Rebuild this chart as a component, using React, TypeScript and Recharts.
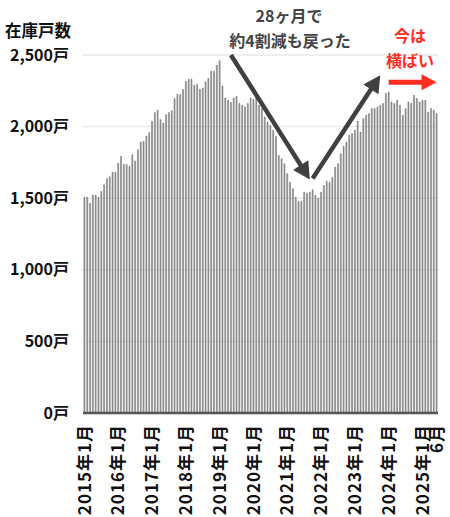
import React from 'react';
import { BarChart, Bar, XAxis, YAxis, CartesianGrid, ReferenceLine } from 'recharts';

// 2015年1月 〜 2025年6月 の月次カテゴリ
const startYear = 2015;
const monthCount = 126;
const months: string[] = Array.from({ length: monthCount }, (_, i) => {
  const y = startYear + Math.floor(i / 12);
  const m = (i % 12) + 1;
  return `${y}年${m}月`;
});

// 在庫戸数（画像から読み取った概算）
const stock: number[] = [
  1507, 1507, 1465, 1521, 1521, 1507, 1547, 1594, 1636, 1650, 1682, 1682,
  1745, 1792, 1736, 1736, 1722, 1804, 1760, 1839, 1892, 1897, 1934, 1958,
  2037, 2098, 2114, 2048, 2025, 2083, 2098, 2110, 2196, 2224, 2224, 2259,
  2317, 2331, 2331, 2289, 2294, 2261, 2270, 2312, 2336, 2387, 2387, 2429,
  2459, 2284, 2200, 2184, 2168, 2200, 2212, 2161, 2149, 2137, 2161, 2200,
  2190, 2207, 2149, 2126, 2067, 2032, 2009, 1974, 1932, 1799, 1776, 1741,
  1671, 1612, 1566, 1507, 1477, 1477, 1542, 1535, 1542, 1559, 1519, 1500,
  1542, 1589, 1619, 1612, 1647, 1717, 1741, 1811, 1862, 1892, 1939, 1951,
  1974, 2039, 1962, 2056, 2079, 2091, 2126, 2126, 2137, 2149, 2161, 2231,
  2242, 2172, 2161, 2184, 2149, 2079, 2126, 2172, 2161, 2219, 2196, 2172,
  2184, 2184, 2102, 2126, 2114, 2091,
];

const yTicks = [0, 500, 1000, 1500, 2000, 2500];

// 矢印（データ座標）
const downArrow = [{ x: '2019年5月', y: 2500 }, { x: '2021年9月', y: 1631 }];
const upArrow = [{ x: '2021年10月', y: 1638 }, { x: '2023年10月', y: 2359 }];
const flatArrow = [{ x: '2024年1月', y: 2310 }, { x: '2025年6月', y: 2310 }];

const data = months.map((month, i) => ({ month, stock: stock[i] }));

const FONT = '"Noto Sans CJK JP", "Noto Sans", sans-serif';

const makeArrow = (color: string, shaft: number, headLen: number, headHalf: number) =>
  (props: any) => {
    const { x1, y1, x2, y2 } = props;
    const dx = x2 - x1;
    const dy = y2 - y1;
    const len = Math.sqrt(dx * dx + dy * dy);
    const ux = dx / len;
    const uy = dy / len;
    const bx = x2 - ux * headLen;
    const by = y2 - uy * headLen;
    const px = -uy;
    const py = ux;
    return (
      <g>
        <line x1={x1} y1={y1} x2={bx + ux} y2={by + uy} stroke={color} strokeWidth={shaft} />
        <polygon
          points={`${x2},${y2} ${bx + px * headHalf},${by + py * headHalf} ${bx - px * headHalf},${by - py * headHalf}`}
          fill={color}
        />
      </g>
    );
  };

const XTick = (props: any) => {
  const { x, y, payload, index } = props;
  const v: string = payload.value;
  let text = '';
  if (v.endsWith('年1月')) text = v;
  if (index === monthCount - 1) text = '6月';
  if (!text) return null;
  return (
    <text
      x={x}
      y={y + 3}
      transform={`rotate(-90, ${x}, ${y + 3})`}
      textAnchor="end"
      dy="0.36em"
      fontSize={17}
      fontWeight={700}
      letterSpacing={1}
      fill="#111"
      fontFamily={FONT}
    >
      {text}
    </text>
  );
};

const textStyle: React.CSSProperties = {
  position: 'absolute',
  fontFamily: FONT,
  fontWeight: 700,
  fontSize: 16,
  lineHeight: '17px',
  whiteSpace: 'nowrap',
  transform: 'translate(-50%, -50%)',
};

export default function App() {
  return (
    <div style={{ position: 'fixed', left: 0, top: 0, width: 450, height: 517, background: '#fff' }}>
      <BarChart
        width={450}
        height={517}
        data={data}
        margin={{ top: 55, right: 12, bottom: 0, left: 0 }}
        barCategoryGap="32%"
      >
        <CartesianGrid vertical={false} stroke="#e9e9e9" strokeWidth={1.5} />
        <XAxis
          dataKey="month"
          interval={0}
          tick={<XTick />}
          tickLine={false}
          axisLine={{ stroke: '#555', strokeWidth: 2.5 }}
          height={104}
        />
        <YAxis
          domain={[0, 2500]}
          ticks={yTicks}
          width={83}
          axisLine={false}
          tickLine={false}
          tickMargin={8}
          tickFormatter={(v: number) => `${v.toLocaleString('en-US')}戸`}
          tick={{ fill: '#111', fontSize: 16, fontWeight: 700, fontFamily: FONT }}
        />
        <Bar dataKey="stock" fill="#9a9a9a" stroke="#6a6a6a" strokeWidth={0.5} isAnimationActive={false} />
        <ReferenceLine segment={downArrow} ifOverflow="visible" shape={makeArrow('#404040', 4.5, 17, 9)} />
        <ReferenceLine segment={upArrow} ifOverflow="visible" shape={makeArrow('#404040', 4.5, 17, 9)} />
        <ReferenceLine segment={flatArrow} ifOverflow="visible" shape={makeArrow('#ff2d1f', 5, 15, 8)} />
      </BarChart>
      <div
        style={{
          ...textStyle,
          left: 5,
          top: 30,
          transform: 'translate(0, -50%)',
          fontSize: 16.5,
          lineHeight: '16px',
          color: '#111',
        }}
      >
        在庫戸数
      </div>
      <div style={{ ...textStyle, left: 289, top: 15, color: '#444' }}>28ヶ月で</div>
      <div style={{ ...textStyle, left: 290, top: 40, color: '#444' }}>約4割減も戻った</div>
      <div style={{ ...textStyle, left: 410, top: 35, color: '#ff2d1f' }}>今は</div>
      <div style={{ ...textStyle, left: 410, top: 60, color: '#ff2d1f' }}>横ばい</div>
    </div>
  );
}
